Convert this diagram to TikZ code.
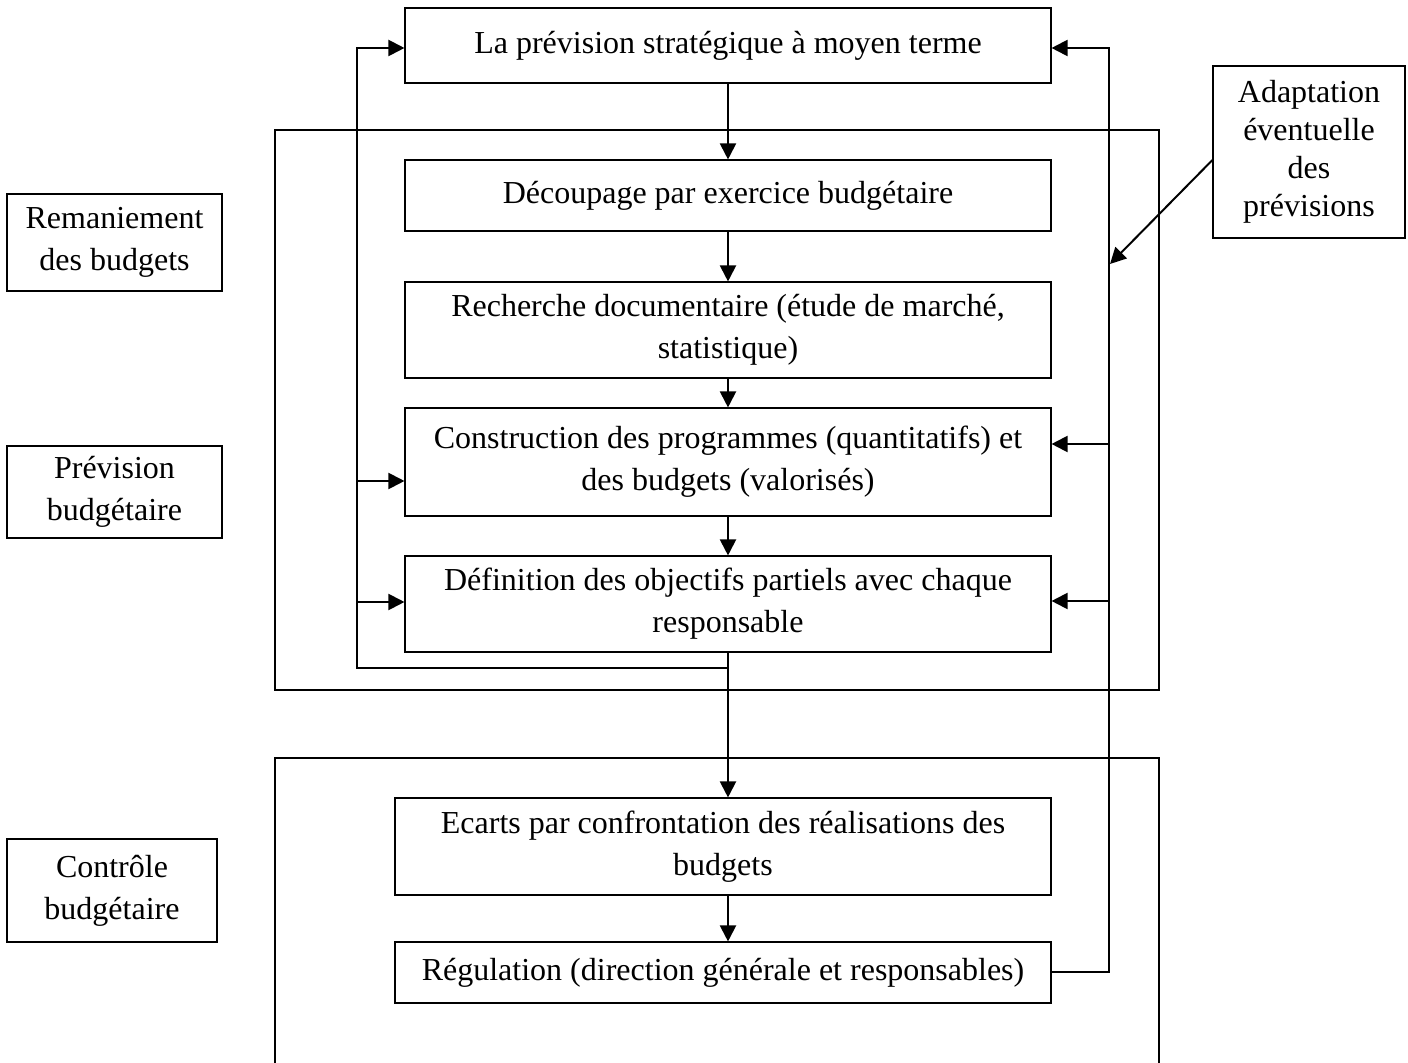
\documentclass[tikz,border=0pt]{standalone}
\usepackage{fontspec}
\setmainfont{Liberation Serif}
\usetikzlibrary{arrows.meta}
\begin{document}
\begin{tikzpicture}[x=0.5pt,y=-0.5pt,
  box/.style={draw,line width=0.55pt,inner sep=0pt,align=center,font=\fontsize{16}{21}\selectfont},
  frame/.style={draw,line width=0.55pt},
  conn/.style={line width=1pt},
  arr/.style={conn,-{Triangle[length=8pt,width=8pt]}}]
\useasboundingbox (0,0) rectangle (1408,1063);
% frames
\draw[frame] (275,130) rectangle (1159,690);
\draw[frame] (275,1064) -- (275,758) -- (1159,758) -- (1159,1064);
% main boxes
\node[box,minimum width=323pt,minimum height=37.5pt] (top) at (728,45.5) {La prévision stratégique à moyen terme};
\node[box,minimum width=323pt,minimum height=35.5pt] (dec) at (728,195.5) {Découpage par exercice budgétaire};
\node[box,minimum width=323pt,minimum height=48pt] (rech) at (728,330) {Recherche documentaire (étude de marché,\\statistique)};
\node[box,minimum width=323pt,minimum height=54pt] (cons) at (728,462) {Construction des programmes (quantitatifs) et\\des budgets (valorisés)};
\node[box,minimum width=323pt,minimum height=48pt] (def) at (728,604) {Définition des objectifs partiels avec chaque\\responsable};
\node[box,minimum width=328pt,minimum height=48.5pt] (ecarts) at (723,846.5) {Ecarts par confrontation des réalisations des\\budgets};
\node[box,minimum width=328pt,minimum height=30.5pt] (reg) at (723,972.5) {Régulation (direction générale et responsables)};
% side boxes
\node[box,minimum width=107.5pt,minimum height=48.5pt] (reman) at (114.5,242.5) {Remaniement\\des budgets};
\node[box,minimum width=107.5pt,minimum height=46pt] (prev) at (114.5,492) {Prévision\\budgétaire};
\node[box,minimum width=105pt,minimum height=51.5pt] (ctrl) at (112,890.5) {Contrôle\\budgétaire};
\node[box,minimum width=96pt,minimum height=86pt,font=\fontsize{16}{19}\selectfont] (adapt) at (1309,152) {Adaptation\\éventuelle\\des\\prévisions};
% central flow
\draw[arr] (top.south) -- (dec.north);
\draw[arr] (dec.south) -- (rech.north);
\draw[arr] (rech.south) -- (cons.north);
\draw[arr] (cons.south) -- (def.north);
\draw[arr] (def.south) -- (def.south |- ecarts.north);
\draw[arr] (ecarts.south -| def.south) -- (def.south |- reg.north);
% left feedback loop
\coordinate (L) at (357,668);
\coordinate (LT) at (357,48);
\coordinate (L1) at (357,481);
\coordinate (L2) at (357,602);
\draw[arr] (def.south |- L) -- (L) -- (LT) -- (top.west |- LT);
\draw[arr] (L1) -- (cons.west |- L1);
\draw[arr] (L2) -- (def.west |- L2);
% right feedback loop
\coordinate (R0) at (1109,972);
\coordinate (RT) at (1109,48);
\coordinate (R1) at (1109,444);
\coordinate (R2) at (1109,601);
\draw[arr] (reg.east |- R0) -- (R0) -- (RT) -- (top.east |- RT);
\draw[arr] (R1) -- (cons.east |- R1);
\draw[arr] (R2) -- (def.east |- R2);
% adaptation arrow
\coordinate (D) at (1110,264);
\draw[arr] (adapt.west |- 0,160) -- (D);
\end{tikzpicture}
\end{document}
